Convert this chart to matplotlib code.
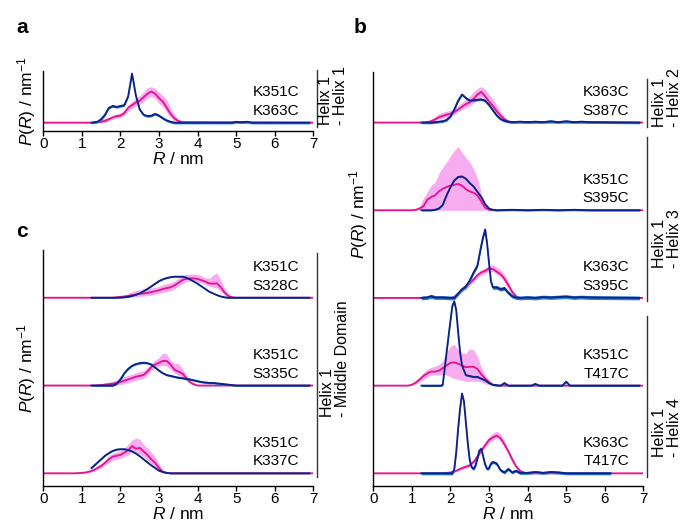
import matplotlib
matplotlib.use("Agg")
import matplotlib.pyplot as plt
import numpy as np
from matplotlib.lines import Line2D

plt.rcParams["font.family"] = ["Liberation Sans", "DejaVu Sans"]
plt.rcParams["mathtext.fontset"] = "custom"
plt.rcParams["mathtext.rm"] = "Liberation Sans"
plt.rcParams["mathtext.it"] = "Liberation Sans:italic"

# ---- data: P(R) traces, heights in units of the row spacing ----
# pink = simulation mean with band, blue = DEER distance distribution

A_LABELS = ["K351C", "K363C"]
A_PINK_RANGE = (1.2, 3.6)
A_PINK = [0, 0, 0.005, 0.01, 0.02, 0.04, 0.06, 0.075, 0.08, 0.11, 0.17, 0.20, 0.23,
          0.25, 0.29, 0.33, 0.355, 0.33, 0.28, 0.24, 0.17, 0.10, 0.05, 0.02, 0.005]
A_PINK_HI = [0, 0.005, 0.02, 0.045, 0.05, 0.06, 0.08, 0.10, 0.11, 0.14, 0.20, 0.24, 0.28,
             0.31, 0.35, 0.40, 0.41, 0.39, 0.35, 0.31, 0.26, 0.16, 0.09, 0.04, 0.01]
A_PINK_LO = [0, 0, 0, 0, 0, 0.02, 0.04, 0.05, 0.06, 0.08, 0.13, 0.16, 0.19,
             0.21, 0.24, 0.28, 0.30, 0.28, 0.22, 0.18, 0.12, 0.06, 0.02, 0.005, 0]
A_BLUE_R = [1.25, 1.4, 1.5, 1.6, 1.7, 1.8, 1.9, 2.0, 2.1, 2.2, 2.3, 2.4, 2.5, 2.6, 2.7,
            2.8, 2.9, 3.0, 3.1, 3.2, 3.3, 3.4, 4.9, 5.0, 5.1, 5.3, 5.4, 6.9]
A_BLUE = [0, 0.01, 0.04, 0.09, 0.17, 0.19, 0.18, 0.19, 0.20, 0.30, 0.56, 0.31, 0.15, 0.09,
          0.075, 0.08, 0.10, 0.08, 0.05, 0.025, 0.01, 0, 0, 0.01, 0.005, 0.01, 0, 0]
A_BLUE_ERR = 0.014

B1_LABELS = ["K363C", "S387C"]
B1_PINK_RANGE = (1.2, 3.6)
B1_PINK = [0, 0, 0.005, 0.015, 0.035, 0.06, 0.075, 0.09, 0.10, 0.12, 0.15, 0.18, 0.21,
           0.23, 0.27, 0.32, 0.35, 0.30, 0.24, 0.19, 0.13, 0.08, 0.04, 0.015, 0]
B1_PINK_HI = [0, 0.005, 0.02, 0.04, 0.07, 0.10, 0.12, 0.13, 0.14, 0.16, 0.19, 0.23, 0.27,
              0.30, 0.35, 0.39, 0.41, 0.38, 0.32, 0.27, 0.20, 0.12, 0.06, 0.02, 0]
B1_PINK_LO = [0, 0, 0, 0.005, 0.02, 0.04, 0.05, 0.06, 0.07, 0.09, 0.12, 0.15, 0.17,
              0.19, 0.22, 0.27, 0.30, 0.25, 0.19, 0.14, 0.08, 0.04, 0.02, 0.005, 0]
B1_BLUE_R = [1.25, 1.5, 1.6, 1.7, 1.8, 1.9, 2.0, 2.1, 2.2, 2.3, 2.4, 2.5, 2.6, 2.7, 2.8,
             2.9, 3.0, 3.1, 3.2, 3.3, 3.4, 3.5, 3.6, 3.8, 4.0, 4.2, 4.4, 4.6, 4.8, 5.0,
             5.2, 5.4, 5.6, 6.9]
B1_BLUE = [0, 0, 0.005, 0.01, 0.015, 0.03, 0.07, 0.15, 0.25, 0.32, 0.28, 0.25, 0.255,
           0.26, 0.265, 0.25, 0.20, 0.14, 0.08, 0.04, 0.02, 0.01, 0.005, 0.01, 0.005,
           0.01, 0.005, 0.015, 0.005, 0.015, 0.005, 0.01, 0.005, 0]
B1_BLUE_ERR = 0.014

B2_LABELS = ["K351C", "S395C"]
B2_PINK_RANGE = (1.0, 3.1)
B2_PINK = [0, 0.005, 0.02, 0.045, 0.12, 0.15, 0.17, 0.215, 0.245, 0.265, 0.28, 0.29,
           0.30, 0.28, 0.24, 0.215, 0.20, 0.17, 0.10, 0.03, 0.005, 0]
B2_PINK_HI = [0, 0.01, 0.05, 0.14, 0.21, 0.28, 0.32, 0.42, 0.49, 0.55, 0.62, 0.68,
              0.73, 0.66, 0.60, 0.55, 0.47, 0.37, 0.19, 0.06, 0.01, 0]
B2_PINK_LO = [0.0] * 22
B2_BLUE_R = [1.25, 1.5, 1.6, 1.7, 1.8, 1.9, 2.0, 2.1, 2.2, 2.3, 2.4, 2.5, 2.6, 2.7,
             2.8, 2.9, 3.0, 3.1, 3.2, 3.6, 4.0, 4.4, 4.8, 5.2, 5.6, 6.9]
B2_BLUE = [0, 0, 0.005, 0.02, 0.06, 0.17, 0.265, 0.34, 0.38, 0.385, 0.36, 0.31, 0.27,
           0.21, 0.15, 0.07, 0.02, 0.005, 0, 0.005, 0, 0.005, 0, 0.005, 0, 0]
B2_BLUE_ERR = 0.008

B3_LABELS = ["K363C", "S395C"]
B3_PINK_RANGE = (2.0, 3.8)
B3_PINK = [0, 0.01, 0.05, 0.09, 0.13, 0.17, 0.21, 0.26, 0.29, 0.31, 0.335, 0.33,
           0.30, 0.27, 0.22, 0.145, 0.07, 0.02, 0]
B3_PINK_HI = [0, 0.02, 0.07, 0.12, 0.16, 0.20, 0.24, 0.29, 0.32, 0.345, 0.37, 0.38,
              0.35, 0.32, 0.27, 0.19, 0.10, 0.03, 0]
B3_PINK_LO = [0, 0, 0.03, 0.07, 0.10, 0.14, 0.18, 0.23, 0.26, 0.28, 0.30, 0.30,
              0.27, 0.24, 0.18, 0.11, 0.04, 0.01, 0]
B3_BLUE_R = [1.25, 1.4, 1.5, 1.6, 1.8, 2.0, 2.1, 2.2, 2.3, 2.4, 2.5, 2.6, 2.7, 2.8,
             2.85, 2.9, 2.95, 3.0, 3.05, 3.1, 3.2, 3.3, 3.4, 3.5, 3.6, 3.7, 3.8, 4.0,
             4.2, 4.4, 4.6, 4.8, 5.0, 5.2, 5.4, 5.6, 6.9]
B3_BLUE = [0, 0.005, 0.02, 0.005, 0.005, 0, 0, 0.05, 0.10, 0.13, 0.20, 0.29, 0.37,
           0.60, 0.70, 0.78, 0.62, 0.40, 0.19, 0.12, 0.12, 0.10, 0.11, 0.06, 0.02,
           0.005, 0, 0.005, 0, 0.01, 0.005, 0.01, 0.015, 0.005, 0.01, 0.005, 0]
B3_BLUE_ERR = 0.022

B4_LABELS = ["K351C", "T417C"]
B4_PINK_RANGE = (0.9, 3.2)
B4_PINK = [0, 0.01, 0.035, 0.07, 0.11, 0.14, 0.16, 0.16, 0.17, 0.20, 0.23, 0.26,
           0.265, 0.25, 0.23, 0.21, 0.215, 0.215, 0.19, 0.13, 0.08, 0.04, 0.01, 0]
B4_PINK_HI = [0, 0.015, 0.05, 0.10, 0.15, 0.19, 0.21, 0.22, 0.24, 0.28, 0.38, 0.45,
              0.47, 0.41, 0.37, 0.37, 0.42, 0.41, 0.33, 0.21, 0.12, 0.06, 0.02, 0]
B4_PINK_LO = [0, 0.005, 0.02, 0.04, 0.07, 0.10, 0.12, 0.12, 0.12, 0.13, 0.12, 0.10,
              0.08, 0.07, 0.06, 0.05, 0.05, 0.05, 0.05, 0.04, 0.02, 0.01, 0, 0]
B4_BLUE_R = [1.25, 1.75, 1.8, 1.85, 1.9, 1.95, 2.0, 2.05, 2.1, 2.15, 2.2, 2.25, 2.3,
             2.4, 2.5, 2.6, 2.7, 2.8, 2.9, 3.0, 3.1, 3.2, 3.3, 3.4, 3.5, 4.1, 4.2, 4.3,
             4.9, 5.0, 5.1, 6.9]
B4_BLUE = [0, 0, 0.01, 0.19, 0.38, 0.56, 0.74, 0.91, 0.96, 0.86, 0.61, 0.38, 0.23,
           0.12, 0.11, 0.10, 0.10, 0.08, 0.06, 0.03, 0.01, 0.005, 0, 0.03, 0, 0, 0.02,
           0, 0, 0.045, 0, 0]
B4_BLUE_ERR = 0.01

B5_LABELS = ["K363C", "T417C"]
B5_PINK_RANGE = (1.8, 4.0)
B5_PINK = [0, 0.005, 0.01, 0.02, 0.04, 0.06, 0.075, 0.09, 0.13, 0.19, 0.26, 0.32,
           0.38, 0.41, 0.43, 0.40, 0.33, 0.25, 0.16, 0.08, 0.03, 0.01, 0]
B5_PINK_HI = [0, 0.01, 0.02, 0.035, 0.06, 0.08, 0.10, 0.12, 0.16, 0.22, 0.29, 0.36,
              0.42, 0.46, 0.48, 0.45, 0.37, 0.28, 0.19, 0.10, 0.045, 0.015, 0]
B5_PINK_LO = [0, 0, 0.005, 0.01, 0.025, 0.045, 0.06, 0.07, 0.11, 0.17, 0.24, 0.29,
              0.35, 0.38, 0.40, 0.37, 0.30, 0.22, 0.13, 0.06, 0.02, 0.005, 0]
B5_BLUE_R = [1.25, 2.05, 2.1, 2.15, 2.2, 2.25, 2.3, 2.35, 2.4, 2.45, 2.5, 2.55, 2.6,
             2.65, 2.7, 2.75, 2.8, 2.85, 2.9, 2.95, 3.0, 3.05, 3.1, 3.2, 3.3, 3.4, 3.5,
             3.6, 3.7, 3.8, 4.0, 4.2, 4.4, 4.6, 4.8, 5.0, 6.15]
B5_BLUE = [0, 0, 0.05, 0.24, 0.51, 0.74, 0.91, 0.82, 0.58, 0.34, 0.15, 0.07, 0.05,
           0.09, 0.17, 0.26, 0.28, 0.19, 0.10, 0.05, 0.06, 0.11, 0.13, 0.11, 0.035,
           0.01, 0.05, 0.01, 0.03, 0.005, 0.005, 0.015, 0.005, 0.015, 0.01, 0, 0]
B5_BLUE_ERR = 0.017

C1_LABELS = ["K351C", "S328C"]
C1_PINK_RANGE = (1.8, 5.0)
C1_PINK = [0, 0.005, 0.01, 0.015, 0.02, 0.03, 0.035, 0.045, 0.05, 0.055, 0.065, 0.075,
           0.085, 0.10, 0.11, 0.12, 0.14, 0.17, 0.20, 0.215, 0.22, 0.22, 0.215, 0.20,
           0.185, 0.165, 0.16, 0.165, 0.12, 0.06, 0.02, 0.005, 0]
C1_PINK_HI = [0, 0.01, 0.02, 0.03, 0.05, 0.07, 0.08, 0.09, 0.10, 0.105, 0.11, 0.12,
              0.13, 0.15, 0.16, 0.17, 0.19, 0.22, 0.26, 0.265, 0.27, 0.27, 0.265, 0.25,
              0.23, 0.22, 0.26, 0.28, 0.21, 0.11, 0.04, 0.01, 0]
C1_PINK_LO = [0, 0, 0, 0.005, 0.005, 0.01, 0.01, 0.015, 0.02, 0.025, 0.03, 0.04,
              0.05, 0.06, 0.07, 0.08, 0.10, 0.13, 0.16, 0.18, 0.19, 0.19, 0.18, 0.17,
              0.15, 0.13, 0.12, 0.11, 0.07, 0.03, 0.005, 0, 0]
C1_BLUE_R = [1.25, 1.9, 2.0, 2.1, 2.2, 2.3, 2.4, 2.5, 2.6, 2.7, 2.8, 2.9, 3.0, 3.1,
             3.2, 3.3, 3.4, 3.5, 3.6, 3.7, 3.8, 3.9, 4.0, 4.1, 4.2, 4.3, 4.4, 4.5, 4.6,
             4.7, 4.8, 6.9]
C1_BLUE = [0, 0, 0.002, 0.005, 0.01, 0.02, 0.035, 0.05, 0.075, 0.10, 0.13, 0.16, 0.19,
           0.21, 0.225, 0.235, 0.24, 0.24, 0.24, 0.23, 0.21, 0.185, 0.16, 0.13, 0.10,
           0.07, 0.05, 0.03, 0.015, 0.005, 0, 0]
C1_BLUE_ERR = 0.005

C2_LABELS = ["K351C", "S335C"]
C2_PINK_RANGE = (1.3, 4.0)
C2_PINK = [0, 0.003, 0.006, 0.01, 0.015, 0.02, 0.03, 0.04, 0.055, 0.07, 0.085, 0.10,
           0.11, 0.12, 0.16, 0.21, 0.24, 0.26, 0.28, 0.28, 0.24, 0.18, 0.16, 0.14,
           0.09, 0.04, 0.015, 0]
C2_PINK_HI = [0.005, 0.01, 0.02, 0.03, 0.04, 0.05, 0.065, 0.08, 0.10, 0.115, 0.13,
              0.145, 0.16, 0.17, 0.21, 0.25, 0.29, 0.32, 0.37, 0.36, 0.29, 0.25, 0.25,
              0.20, 0.13, 0.06, 0.025, 0.005]
C2_PINK_LO = [0, 0, 0, 0, 0, 0, 0.005, 0.01, 0.02, 0.03, 0.045, 0.06, 0.07, 0.08,
              0.12, 0.17, 0.20, 0.22, 0.23, 0.22, 0.19, 0.14, 0.12, 0.10, 0.06, 0.02,
              0.005, 0]
C2_BLUE_R = [1.25, 1.8, 1.9, 2.0, 2.1, 2.2, 2.3, 2.4, 2.5, 2.6, 2.7, 2.8, 2.9, 3.0,
             3.1, 3.2, 3.3, 3.4, 3.5, 3.6, 3.7, 3.8, 3.9, 4.0, 4.1, 4.2, 4.3, 4.4, 4.5,
             4.6, 4.7, 4.8, 4.9, 5.0, 6.9]
C2_BLUE = [0, 0, 0.02, 0.07, 0.14, 0.19, 0.225, 0.245, 0.255, 0.26, 0.255, 0.24, 0.205,
           0.17, 0.14, 0.12, 0.11, 0.10, 0.09, 0.085, 0.075, 0.07, 0.06, 0.05, 0.04,
           0.035, 0.03, 0.03, 0.025, 0.02, 0.015, 0.01, 0.005, 0, 0]
C2_BLUE_ERR = 0.01

C3_LABELS = ["K351C", "K337C"]
C3_PINK_RANGE = (0.8, 3.3)
C3_PINK = [0, 0.002, 0.005, 0.01, 0.02, 0.035, 0.06, 0.085, 0.12, 0.16, 0.19, 0.20,
           0.21, 0.235, 0.26, 0.31, 0.28, 0.29, 0.25, 0.21, 0.16, 0.12, 0.06, 0.015,
           0.005, 0]
C3_PINK_HI = [0, 0.005, 0.01, 0.02, 0.035, 0.055, 0.08, 0.11, 0.15, 0.20, 0.23, 0.24,
              0.26, 0.29, 0.33, 0.38, 0.40, 0.39, 0.33, 0.29, 0.24, 0.19, 0.11, 0.04,
              0.01, 0]
C3_PINK_LO = [0, 0, 0, 0.005, 0.01, 0.02, 0.04, 0.06, 0.09, 0.12, 0.15, 0.16, 0.17,
              0.19, 0.21, 0.25, 0.22, 0.22, 0.19, 0.15, 0.11, 0.07, 0.03, 0.005, 0, 0]
C3_BLUE_R = [1.25, 1.3, 1.4, 1.5, 1.6, 1.7, 1.8, 1.9, 2.0, 2.1, 2.2, 2.3, 2.4, 2.5,
             2.6, 2.7, 2.8, 2.9, 3.0, 3.1, 3.2, 3.3, 6.9]
C3_BLUE = [0.06, 0.08, 0.12, 0.16, 0.20, 0.23, 0.255, 0.27, 0.275, 0.275, 0.265, 0.25,
           0.225, 0.195, 0.16, 0.125, 0.09, 0.06, 0.03, 0.015, 0.005, 0, 0]
C3_BLUE_ERR = 0.005

R_TICKS = [0, 1, 2, 3, 4, 5, 6, 7]

PINK = "#e3148e"
PINK_BAND = "#f8acf0"
BLUE = "#0c2288"
BLUE_BAND = "#2b7fd0"

W, H = 682, 523


def px_box(left, top, right, bottom):
    return [left / W, 1 - bottom / H, (right - left) / W, (bottom - top) / H]


def fpt(x, y):
    return x / W, 1 - y / H


def r_grid(r_range, n):
    r = np.round(np.arange(r_range[0], r_range[1] + 0.05, 0.1), 2)
    assert len(r) == n, (r_range, len(r), n)
    return r


def draw_row(ax, offset, labels, pink_range, pink, pink_lo, pink_hi, blue_r, blue, blue_err):
    r = r_grid(pink_range, len(pink))
    rp = np.concatenate([[0.0], r, [6.97]])

    def pad(values):
        return offset + np.concatenate([[0.0], np.asarray(values, float), [0.0]])

    ax.fill_between(rp, pad(pink_lo), pad(pink_hi), color=PINK_BAND, lw=0, zorder=1)
    ax.plot(rp, pad(pink), color=PINK, lw=1.35, zorder=2, solid_joinstyle="round")
    b = offset + np.asarray(blue, float)
    ax.fill_between(blue_r, b - blue_err, b + blue_err, color=BLUE_BAND, lw=0, zorder=3)
    ax.plot(blue_r, b, color=BLUE, lw=1.35, zorder=4, solid_joinstyle="round")
    ax.text(6.63, offset + 0.35, labels[0], ha="right", va="center", fontsize=11)
    ax.text(6.63, offset + 0.135, labels[1], ha="right", va="center", fontsize=11)


def style_axis(ax, ylim):
    ax.set_xlim(0, 7)
    ax.set_ylim(*ylim)
    ax.set_xticks(R_TICKS)
    ax.set_yticks([])
    for side in ["top", "right"]:
        ax.spines[side].set_visible(False)
    ax.spines["left"].set_linewidth(1.0)
    ax.spines["bottom"].set_linewidth(1.0)
    ax.tick_params(axis="x", direction="out", length=3.5, width=1.0, pad=1, labelsize=11)
    ax.set_xlabel(r"$\it{R}$ / nm", fontsize=12.5, labelpad=0)
    ax.patch.set_alpha(0)


fig = plt.figure(figsize=(W / 100, H / 100), dpi=100)

ylabel = r"$\it{P(R)}$ / nm$^{-1}$"

# panel a
ax_a = fig.add_axes(px_box(43.3, 70.7, 313.3, 131))
draw_row(ax_a, 0, A_LABELS, A_PINK_RANGE, A_PINK, A_PINK_LO, A_PINK_HI,
         A_BLUE_R, A_BLUE, A_BLUE_ERR)
style_axis(ax_a, (-0.095, 0.593))
ax_a.set_ylabel(ylabel, fontsize=12.5, labelpad=4)

# panel b
ax_b = fig.add_axes(px_box(373.3, 71.7, 643.3, 485.7))
b_rows = [
    (B1_LABELS, B1_PINK_RANGE, B1_PINK, B1_PINK_LO, B1_PINK_HI, B1_BLUE_R, B1_BLUE, B1_BLUE_ERR),
    (B2_LABELS, B2_PINK_RANGE, B2_PINK, B2_PINK_LO, B2_PINK_HI, B2_BLUE_R, B2_BLUE, B2_BLUE_ERR),
    (B3_LABELS, B3_PINK_RANGE, B3_PINK, B3_PINK_LO, B3_PINK_HI, B3_BLUE_R, B3_BLUE, B3_BLUE_ERR),
    (B4_LABELS, B4_PINK_RANGE, B4_PINK, B4_PINK_LO, B4_PINK_HI, B4_BLUE_R, B4_BLUE, B4_BLUE_ERR),
    (B5_LABELS, B5_PINK_RANGE, B5_PINK, B5_PINK_LO, B5_PINK_HI, B5_BLUE_R, B5_BLUE, B5_BLUE_ERR),
]
for i, row in enumerate(b_rows):
    draw_row(ax_b, len(b_rows) - 1 - i, *row)
style_axis(ax_b, (-0.141, 4.58))
fig.text(*fpt(359, 214), ylabel, rotation=90, ha="center", va="center", fontsize=12.5)

# panel c
ax_c = fig.add_axes(px_box(43.3, 250, 313.3, 485.7))
c_rows = [
    (C1_LABELS, C1_PINK_RANGE, C1_PINK, C1_PINK_LO, C1_PINK_HI, C1_BLUE_R, C1_BLUE, C1_BLUE_ERR),
    (C2_LABELS, C2_PINK_RANGE, C2_PINK, C2_PINK_LO, C2_PINK_HI, C2_BLUE_R, C2_BLUE, C2_BLUE_ERR),
    (C3_LABELS, C3_PINK_RANGE, C3_PINK, C3_PINK_LO, C3_PINK_HI, C3_BLUE_R, C3_BLUE, C3_BLUE_ERR),
]
for i, row in enumerate(c_rows):
    draw_row(ax_c, len(c_rows) - 1 - i, *row)
style_axis(ax_c, (-0.141, 2.544))
ax_c.set_ylabel(ylabel, fontsize=12.5, labelpad=4)

# group brackets on the right
brackets = [
    (316.7, 70, 127, 333, 125, "Helix 1\n- Helix 1"),
    (646.7, 79, 127, 667, 127, "Helix 1\n- Helix 2"),
    (646.7, 137, 300.7, 667, 268, "Helix 1\n- Helix 3"),
    (646.7, 316, 477, 667, 457, "Helix 1\n- Helix 4"),
    (316.7, 253, 477, 335, 417, "Helix 1\n- Middle Domain"),
]
for x, y0, y1, tx, ty, text in brackets:
    (fx0, fy0), (fx1, fy1) = fpt(x, y0), fpt(x, y1)
    fig.add_artist(Line2D([fx0, fx1], [fy0, fy1], color="#333333", lw=1.0))
    fig.text(*fpt(tx, ty), text, rotation=90, ha="center", va="bottom",
             multialignment="left", fontsize=11.5, linespacing=1.05)

# panel letters
for letter, x, y in [("a", 16, 33), ("b", 354, 33), ("c", 16, 237)]:
    fig.text(*fpt(x, y), letter, fontsize=15, fontweight="bold", ha="left", va="baseline")

fig.savefig("out.png", dpi=100)
